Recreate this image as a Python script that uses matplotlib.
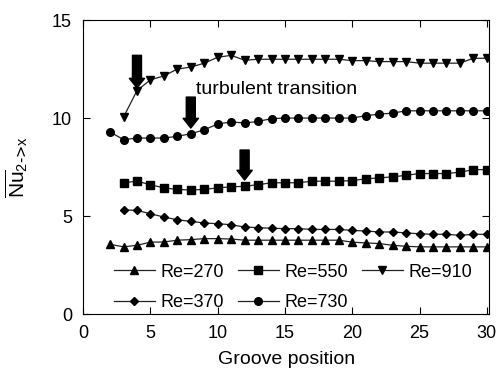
import numpy as np
import matplotlib.pyplot as plt

plt.rcParams['font.family'] = ['Liberation Sans', 'DejaVu Sans']
plt.rcParams['mathtext.default'] = 'regular'

x270 = list(range(2, 31))
nu270 = [3.56, 3.43, 3.51, 3.67, 3.68, 3.77, 3.80, 3.85, 3.85, 3.83, 3.77, 3.77, 3.77,
         3.77, 3.77, 3.77, 3.77, 3.77, 3.67, 3.63, 3.60, 3.51, 3.46, 3.43, 3.43, 3.43,
         3.43, 3.43, 3.43]

x370 = list(range(3, 31))
nu370 = [5.32, 5.29, 5.12, 4.95, 4.81, 4.73, 4.65, 4.61, 4.56, 4.44, 4.41, 4.38, 4.36,
         4.36, 4.32, 4.32, 4.32, 4.27, 4.24, 4.19, 4.19, 4.14, 4.10, 4.07, 4.07, 4.02,
         4.07, 4.07]

x550 = list(range(3, 31))
nu550 = [6.70, 6.78, 6.60, 6.44, 6.36, 6.33, 6.36, 6.44, 6.49, 6.52, 6.60, 6.70, 6.70,
         6.70, 6.78, 6.78, 6.78, 6.81, 6.90, 6.95, 7.00, 7.08, 7.17, 7.17, 7.17, 7.24,
         7.37, 7.37]

x730 = list(range(2, 31))
nu730 = [9.29, 8.90, 8.98, 8.98, 8.98, 9.07, 9.20, 9.40, 9.70, 9.80, 9.75, 9.83, 9.97,
         10.0, 10.0, 10.0, 10.0, 10.0, 10.0, 10.12, 10.2, 10.25, 10.37, 10.37, 10.37,
         10.37, 10.37, 10.37, 10.37]

x910 = list(range(3, 31))
nu910 = [10.05, 11.4, 11.95, 12.15, 12.5, 12.6, 12.8, 13.1, 13.2, 12.95, 13.0, 13.0,
         13.0, 13.0, 13.0, 13.0, 13.0, 12.93, 12.93, 12.88, 12.88, 12.88, 12.8, 12.8,
         12.8, 12.8, 13.05, 13.05]

# arrows: x position, top, tip
arrow_x = [4, 8, 12]
arrow_top = [13.2, 11.07, 8.37]
arrow_tip = [11.53, 9.49, 6.84]

fig = plt.figure(figsize=(5.01, 3.78), dpi=100)
ax = fig.add_axes([0.166, 0.169, 0.811, 0.778])

lc = '#222222'
kw = dict(color=lc, lw=0.9, markerfacecolor='black', markeredgecolor='black')
ax.plot(x270, nu270, marker='^', ms=5.5, label='Re=270', **kw)
ax.plot(x370, nu370, marker='D', ms=4, label='Re=370', **kw)
ax.plot(x550, nu550, marker='s', ms=5.5, label='Re=550', **kw)
ax.plot(x730, nu730, marker='o', ms=5.5, label='Re=730', **kw)
ax.plot(x910, nu910, marker='v', ms=5.5, label='Re=910', **kw)

for xa, yt, yb in zip(arrow_x, arrow_top, arrow_tip):
    ax.annotate('', xy=(xa, yb), xytext=(xa, yt),
                arrowprops=dict(arrowstyle='simple,head_width=11,head_length=7,tail_width=6.5',
                                mutation_scale=1, color='black', shrinkA=0, shrinkB=0))

ax.text(8.4, 11.45, 'turbulent transition', fontsize=14, va='center', ha='left')

ax.set_xlim(0, 30.2)
ax.set_ylim(0, 15)
ax.set_xticks([0, 5, 10, 15, 20, 25, 30])
ax.set_yticks([0, 5, 10, 15])
ax.tick_params(direction='in', top=True, right=True, labelsize=13, length=5, pad=8)
ax.set_xlabel('Groove position', fontsize=14, labelpad=6)
ax.set_ylabel(r'$\overline{Nu}_{2\text{->}x}$', fontsize=15, labelpad=16)

ax.legend(ncol=3, frameon=False, loc='lower left', bbox_to_anchor=(0.035, -0.045),
          fontsize=13, handlelength=2.3, handletextpad=0.3, columnspacing=0.75,
          labelspacing=0.75)

fig.savefig('out.png', dpi=100)
